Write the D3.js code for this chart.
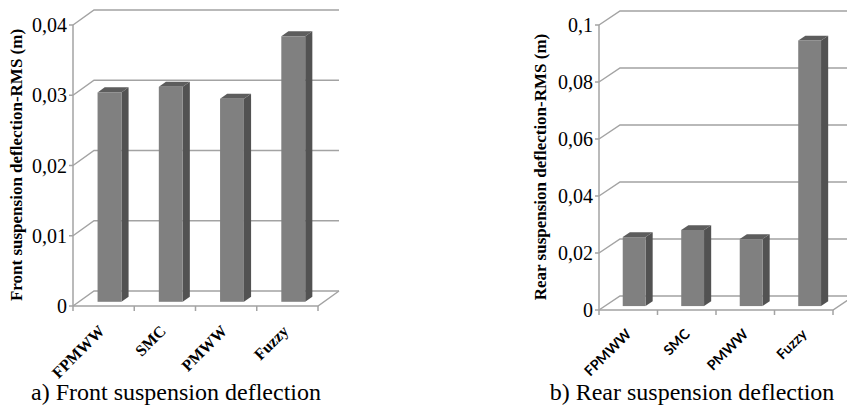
<!DOCTYPE html>
<html>
<head>
<meta charset="utf-8">
<script src="https://cdn.jsdelivr.net/npm/d3@7"></script>
<style>
  body { margin: 0; background: #fff; }
  svg { display: block; }
  .serif { font-family: "Liberation Serif", "Times New Roman", Times, "DejaVu Serif", serif; }
  .sans { font-family: Lato, "Open Sans", sans-serif; }
</style>
</head>
<body>
<div id="chart"></div>
<script>
// data
var categories = ["FPMWW", "SMC", "PMWW", "Fuzzy"];
var frontRms = [0.0298, 0.0306, 0.0289, 0.0378];
var rearRms = [0.0242, 0.0267, 0.0235, 0.0932];
var frontTicks = [0, 0.01, 0.02, 0.03, 0.04];
var rearTicks = [0, 0.02, 0.04, 0.06, 0.08, 0.1];

var W = 847, H = 406;
var gridColor = "#a3a3a3";
var faceColor = "#808080", sideColor = "#525252", topColor = "#5d5d5d";

var svg = d3.select("#chart").append("svg")
  .attr("width", W)
  .attr("height", H);

// comma decimal like the original
var fmt = function(d) { return String(d).replace(".", ","); };

function drawChart(opt) {
  var g = svg.append("g");

  var x = d3.scaleBand()
    .domain(categories)
    .range(opt.xRange)
    .paddingInner(0).paddingOuter(0);

  var y = d3.scaleLinear()
    .domain([0, d3.max(opt.ticks)])
    .range(opt.yRange);

  var dx = opt.depth[0], dy = opt.depth[1];
  var x0 = opt.xRange[0], x1 = opt.xRange[1];
  var y0 = y(0);

  // back wall gridlines + side wall diagonals
  opt.ticks.forEach(function(t) {
    var yy = y(t);
    g.append("path")
      .attr("d", "M" + x0 + "," + yy + "L" + (x0 + dx) + "," + (yy + dy) + "L" + (x1 + dx) + "," + (yy + dy))
      .attr("fill", "none")
      .attr("stroke", gridColor)
      .attr("stroke-width", 1.5);
  });

  // floor front edge + right edge
  g.append("path")
    .attr("d", "M" + x0 + "," + y0 + "L" + x1 + "," + y0 + "L" + (x1 + dx) + "," + (y0 + dy))
    .attr("fill", "none")
    .attr("stroke", gridColor)
    .attr("stroke-width", 1.5);

  // y axis line
  g.append("line")
    .attr("x1", x0).attr("x2", x0)
    .attr("y1", y(d3.max(opt.ticks))).attr("y2", y0)
    .attr("stroke", gridColor)
    .attr("stroke-width", 1.5);

  // y ticks + labels
  opt.ticks.forEach(function(t) {
    g.append("line")
      .attr("x1", x0 - 4).attr("x2", x0)
      .attr("y1", y(t)).attr("y2", y(t))
      .attr("stroke", gridColor).attr("stroke-width", 1.5);
    g.append("text")
      .attr("class", "serif")
      .attr("x", x0 - 6)
      .attr("y", y(t))
      .attr("dy", "0.35em")
      .attr("text-anchor", "end")
      .style("font-size", "20px")
      .text(fmt(t));
  });

  // x ticks at band edges
  var edges = categories.map(function(c) { return x(c); }).concat([x1]);
  edges.forEach(function(e) {
    g.append("line")
      .attr("x1", e).attr("x2", e)
      .attr("y1", y0).attr("y2", y0 + 5)
      .attr("stroke", gridColor).attr("stroke-width", 1.5);
  });

  // bars
  var bw = x.bandwidth();
  var faceW = bw * 0.39;
  var ox = dx * 0.28, oy = dy * 0.28;   // front face sits a bit into the depth
  var sx = dx * 0.34, sy = dy * 0.34;   // bar thickness

  var bars = g.append("g").selectAll("g")
    .data(opt.values.map(function(v, i) { return {cat: categories[i], v: v}; }))
    .join("g");

  bars.each(function(d) {
    var b = d3.select(this);
    var xl = x(d.cat) + bw / 2 - faceW / 2 + ox;
    var xr = xl + faceW;
    var top = y(d.v) + oy;
    var bot = y0 + oy;
    b.append("polygon")
      .attr("points", [[xr, top], [xr + sx, top + sy], [xr + sx, bot + sy], [xr, bot]].join(" "))
      .attr("fill", sideColor);
    b.append("polygon")
      .attr("points", [[xl, top], [xl + sx, top + sy], [xr + sx, top + sy], [xr, top]].join(" "))
      .attr("fill", topColor);
    b.append("rect")
      .attr("x", xl).attr("y", top)
      .attr("width", faceW).attr("height", bot - top)
      .attr("fill", faceColor);
  });

  // category labels, rotated
  categories.forEach(function(c) {
    var cx = x(c) + bw / 2 + opt.labelShift[0];
    var cy = y0 + opt.labelShift[1];
    g.append("text")
      .attr("class", opt.labelClass)
      .attr("transform", "translate(" + cx + "," + cy + ") rotate(-45)")
      .attr("text-anchor", "end")
      .style("font-weight", "bold")
      .style("font-size", opt.labelSize)
      .text(c);
  });

  // y title
  g.append("text")
    .attr("class", "serif")
    .attr("transform", "translate(" + opt.titleX + "," + opt.titleY + ") rotate(-90)")
    .attr("text-anchor", "middle")
    .attr("dy", "0.35em")
    .style("font-weight", "bold")
    .style("font-size", "17px")
    .text(opt.yTitle);

  // caption
  g.append("text")
    .attr("class", "serif")
    .attr("x", opt.captionX)
    .attr("y", 400)
    .attr("text-anchor", "middle")
    .style("font-size", "24px")
    .text(opt.caption);
}

drawChart({
  values: frontRms,
  ticks: frontTicks,
  xRange: [73, 318],
  yRange: [306, 25],
  depth: [21, -15],
  labelShift: [2, 26],
  labelClass: "serif",
  labelSize: "16px",
  titleX: 16,
  titleY: 165,
  yTitle: "Front suspension deflection-RMS (m)",
  captionX: 176,
  caption: "a) Front suspension deflection"
});

drawChart({
  values: rearRms,
  ticks: rearTicks,
  xRange: [599, 833],
  yRange: [310, 25],
  depth: [21, -14],
  labelShift: [4, 25],
  labelClass: "sans",
  labelSize: "14px",
  titleX: 540,
  titleY: 167,
  yTitle: "Rear suspension deflection-RMS (m)",
  captionX: 692,
  caption: "b) Rear suspension deflection"
});
</script>
</body>
</html>
